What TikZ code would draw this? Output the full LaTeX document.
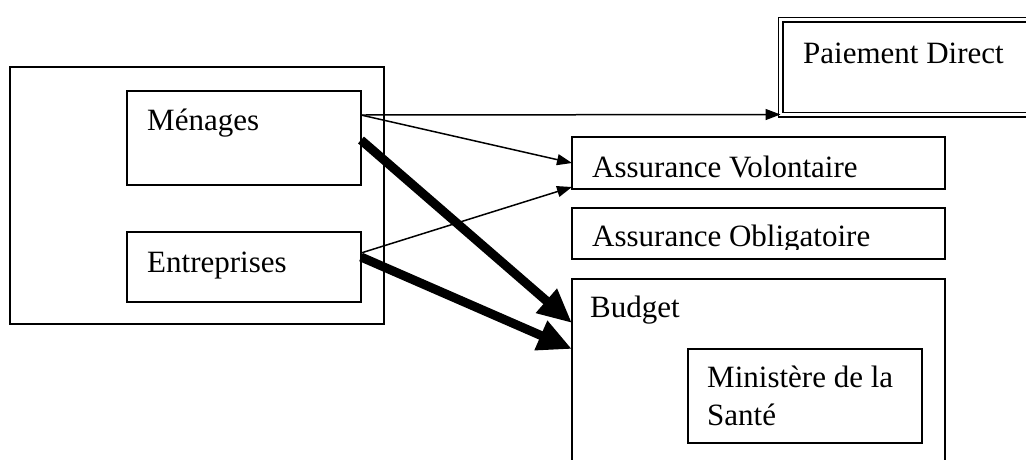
\documentclass[tikz,border=0pt]{standalone}
\usepackage{fontspec}
\setmainfont{Liberation Serif}
\usetikzlibrary{arrows.meta}

\tikzset{
  box/.style={draw, rectangle, line width=1.5pt, inner sep=0pt, outer sep=0pt, anchor=north west},
  txt/.style={anchor=base west, inner sep=0pt, align=left, font=\fontsize{31}{38}\selectfont},
  flow/.style={->, line width=1.5pt},
  bigflow/.style={-{Triangle[length=34pt,width=30pt]}, line width=9pt}
}

\begin{document}
\begin{tikzpicture}[x=1pt,y=-1pt,>={Triangle[length=15pt,width=11pt]}]
        \clip (0,0) rectangle (1026,459);

        % left side
        \node[box, minimum width=374pt, minimum height=257pt] (agents) at (10,67) {};
        \node[box, minimum width=234pt, minimum height=94pt] (men) at (127,91) {};
        \node[box, minimum width=234pt, minimum height=70pt] (ent) at (127,232) {};
        \node[txt] (men-t) at ([shift={(20pt,-39pt)}]men.north west) {Ménages};
        \node[txt] (ent-t) at ([shift={(20pt,-40pt)}]ent.north west) {Entreprises};

        % right side
        \node[box, double, double distance=3pt, minimum width=265pt, minimum height=95pt] (pd) at (780.5,19.5) {};
        \node[txt] (pd-t) at ([shift={(22.5pt,-43.5pt)}]pd.north west) {Paiement Direct};

        \node[box, minimum width=373pt, minimum height=52pt] (av) at (572,137) {};
        \node[txt] (av-t) at ([shift={(20pt,-40pt)}]av.north west) {Assurance Volontaire};

        \node[box, minimum width=373pt, minimum height=51pt] (ao) at (572,208) {};
        \begin{scope}
          \clip (ao.north west) rectangle ([yshift=10pt]ao.south east);
          \node[txt] (ao-t) at ([shift={(20pt,-38pt)}]ao.north west) {Assurance Obligatoire};
        \end{scope}

        \node[box, minimum width=373pt, minimum height=200pt] (bud) at (572,279) {};
        \node[txt] (bud-t) at ([shift={(18pt,-38pt)}]bud.north west) {Budget};
        \node[box, minimum width=234pt, minimum height=94pt] (min) at (688,349) {};
        \node[txt] (min-t) at ([shift={(19pt,-76pt)}]min.north west) {Ministère de la\\Santé};

        % flows
        \draw[flow] ([yshift=-24pt]men.north east) -- (pd.south west);
        \draw[flow] ([yshift=-24pt]men.north east) -- (av.west);
        \draw[flow] ([yshift=-21pt]ent.north east) -- ([yshift=2pt]av.south west);
        \draw[bigflow] ([yshift=-49pt]men.north east) -- ([yshift=-44pt]bud.north west);
        \draw[bigflow] ([yshift=-25pt]ent.north east) -- ([yshift=-70pt]bud.north west);
      \end{tikzpicture}
\end{document}
